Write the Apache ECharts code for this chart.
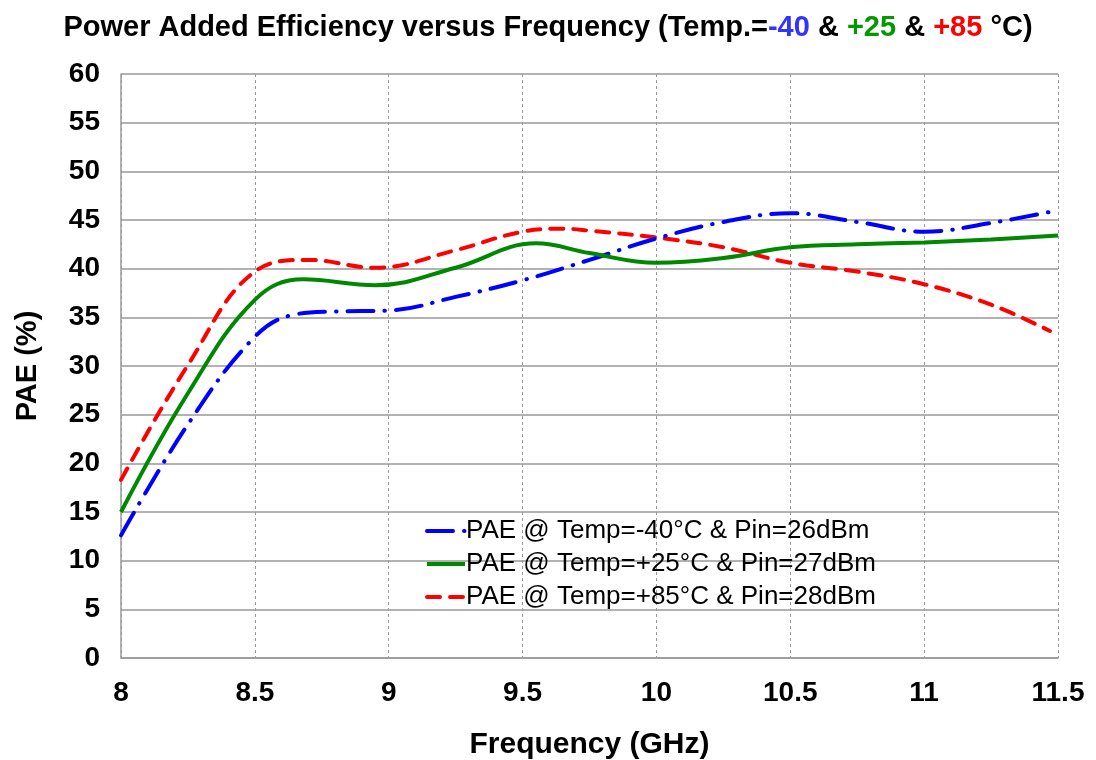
<!DOCTYPE html>
<html>
<head>
<meta charset="utf-8">
<script src="https://cdn.jsdelivr.net/npm/echarts@6/dist/echarts.min.js"></script>
<style>
  html, body { margin: 0; padding: 0; background: #fff; }
  #chart { width: 1096px; height: 760px; }
</style>
</head>
<body>
<div id="chart"></div>
<script>
// frequency points (GHz) and PAE (%)
const freqM40 = [8, 8.25, 8.5, 8.65, 8.8, 9, 9.25, 9.5, 9.75, 10, 10.25, 10.5, 10.75, 11, 11.25, 11.5];
const paeM40 = [12.6, 24.0, 33.0, 35.3, 35.6, 35.7, 37.1, 38.8, 40.9, 43.1, 44.8, 45.7, 44.8, 43.8, 44.7, 46.0];

const freqP25 = [8, 8.25, 8.5, 8.68, 8.95, 9.25, 9.55, 9.75, 10, 10.25, 10.5, 10.75, 11, 11.25, 11.5];
const paeP25 = [15.0, 27.2, 36.8, 38.9, 38.3, 40.1, 42.6, 41.6, 40.6, 41.1, 42.2, 42.5, 42.7, 43.0, 43.4];

const freqP85 = [8, 8.25, 8.5, 8.7, 8.95, 9.25, 9.5, 9.65, 9.75, 10, 10.25, 10.5, 10.75, 11, 11.25, 11.47];
const paeP85 = [18.3, 30.1, 39.7, 40.9, 40.1, 41.9, 43.8, 44.1, 43.9, 43.2, 42.2, 40.6, 39.7, 38.4, 36.3, 33.6];

const seriesNames = [
  "PAE @ Temp=-40°C & Pin=26dBm",
  "PAE @ Temp=+25°C & Pin=27dBm",
  "PAE @ Temp=+85°C & Pin=28dBm"
];

const pairs = (xs, ys) => xs.map((x, i) => [x, ys[i]]);

const FONT = "Liberation Sans, Arial";
const chart = echarts.init(document.getElementById("chart"));

const option = {
  animation: false,
  backgroundColor: "#fff",
  title: {
    text: "Power Added Efficiency versus Frequency (Temp.={b|-40} & {g|+25} & {r|+85} °C)",
    left: "center",
    top: 8,
    textStyle: {
      fontFamily: FONT,
      fontWeight: "bold",
      fontSize: 29,
      color: "#000",
      rich: {
        b: { color: "#3333ff", fontWeight: "bold", fontSize: 29, fontFamily: FONT },
        g: { color: "#009900", fontWeight: "bold", fontSize: 29, fontFamily: FONT },
        r: { color: "#ff0000", fontWeight: "bold", fontSize: 29, fontFamily: FONT }
      }
    }
  },
  grid: {
    left: 121,
    right: 38,
    top: 74,
    bottom: 102,
    containLabel: false,
    outerBoundsMode: "none"
  },
  legend: {
    orient: "vertical",
    left: 420,
    top: 513,
    itemWidth: 38,
    itemHeight: 14,
    itemGap: 7,
    itemStyle: { opacity: 0 },
    lineStyle: { width: 4 },
    textStyle: {
      fontFamily: FONT,
      fontSize: 26,
      color: "#000",
      padding: [0, 0, 0, -4]
    },
    data: seriesNames
  },
  xAxis: {
    type: "value",
    min: 8,
    max: 11.5,
    interval: 0.5,
    name: "Frequency (GHz)",
    nameLocation: "middle",
    nameGap: 72,
    nameTextStyle: {
      fontFamily: FONT,
      fontWeight: "bold",
      fontSize: 30,
      color: "#000"
    },
    axisLine: { show: true, lineStyle: { color: "#999", width: 1.5 } },
    axisTick: { show: false },
    axisLabel: {
      fontFamily: FONT,
      fontWeight: "bold",
      fontSize: 28,
      color: "#000",
      margin: 21,
      formatter: v => String(Math.round(v * 10) / 10)
    },
    splitLine: { show: true, lineStyle: { color: "#999", type: [3, 3], width: 1 } }
  },
  yAxis: {
    type: "value",
    min: 0,
    max: 60,
    interval: 5,
    name: "PAE (%)",
    nameLocation: "middle",
    nameGap: 79,
    nameTextStyle: {
      fontFamily: FONT,
      fontWeight: "bold",
      fontSize: 29,
      color: "#000"
    },
    axisLine: { show: true, lineStyle: { color: "#999", width: 1.5 } },
    axisTick: { show: false },
    axisLabel: {
      fontFamily: FONT,
      fontWeight: "bold",
      fontSize: 28,
      color: "#000",
      margin: 21
    },
    splitLine: { show: true, lineStyle: { color: "#999", width: 1.5 } }
  },
  series: [
    {
      name: seriesNames[0],
      type: "line",
      smooth: 0.4,
      symbol: "none",
      data: pairs(freqM40, paeM40),
      lineStyle: { color: "#0000ff", width: 4, type: [26, 11, 0.5, 11], cap: "round" },
      itemStyle: { color: "#0000ff" },
      z: 3
    },
    {
      name: seriesNames[1],
      type: "line",
      smooth: 0.4,
      symbol: "none",
      data: pairs(freqP25, paeP25),
      lineStyle: { color: "#008800", width: 4, type: "solid" },
      itemStyle: { color: "#008800" },
      z: 4
    },
    {
      name: seriesNames[2],
      type: "line",
      smooth: 0.4,
      symbol: "none",
      data: pairs(freqP85, paeP85),
      lineStyle: { color: "#ff0000", width: 4, type: [13, 10], cap: "round" },
      itemStyle: { color: "#ff0000" },
      z: 2
    }
  ]
};

chart.setOption(option);
</script>
</body>
</html>
